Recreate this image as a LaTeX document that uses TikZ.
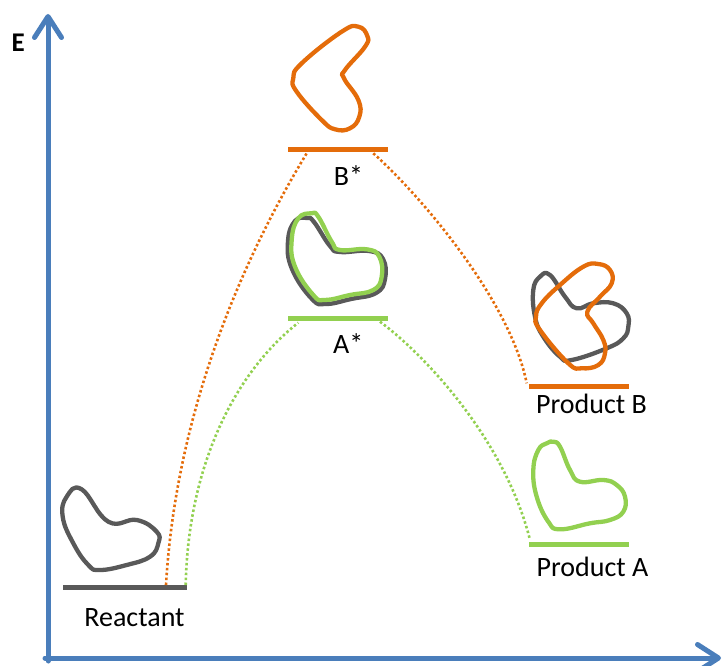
\documentclass[tikz,border=0pt]{standalone}
\usepackage{fontspec}
\setmainfont{Carlito}
\usetikzlibrary{arrows.meta}
\definecolor{axisblue}{HTML}{4A7EBB}
\definecolor{stateorange}{HTML}{E46C0A}
\definecolor{stategreen}{HTML}{92D050}
\definecolor{stategray}{HTML}{595959}
\begin{document}
\begin{tikzpicture}[x=1pt,y=-1pt,
  axisline/.style={line width=5pt, axisblue, line cap=round,
    -{Straight Barb[length=21pt,width=27pt,line width=5pt,round]}},
  levelbar/.style={line width=5pt},
  pathdots/.style={line width=2.6pt, dash pattern=on 2.5pt off 2.4pt},
  blob/.style={line width=4.3pt, line join=round},
  lbl/.style={inner sep=0pt, anchor=base, font=\fontsize{28}{32}\selectfont}]
\useasboundingbox (0,0) rectangle (725,666);

% energy axes
\coordinate (origin) at (48,658);
\coordinate (etop) at (48,14);
\coordinate (xend) at (721,658);
\draw[axisline] (48,661) -- (etop);
\draw[axisline] (45,658) -- (xend);
\node[lbl, font=\bfseries\fontsize{27}{32}\selectfont] (elabel) at (18.3,52) {E};

% energy levels
\coordinate (reactL) at (63,587);   \coordinate (reactR) at (187,587);
\coordinate (bstarL) at (288,149);  \coordinate (bstarR) at (388,149);
\coordinate (astarL) at (288,318);  \coordinate (astarR) at (388,318);
\coordinate (prodBL) at (529,386);  \coordinate (prodBR) at (629,386);
\coordinate (prodAL) at (529,544);  \coordinate (prodAR) at (629,544);
\draw[levelbar, stategray]   (reactL) -- (reactR);
\draw[levelbar, stateorange] (bstarL) -- (bstarR);
\draw[levelbar, stategreen]  (astarL) -- (astarR);
\draw[levelbar, stateorange] (prodBL) -- (prodBR);
\draw[levelbar, stategreen]  (prodAL) -- (prodAR);

% level labels
\node[lbl] (reactant) at (134.5,626.7) {Reactant};
\node[lbl] (bstar) at (348.5,185) {B*};
\node[lbl] (astar) at (348.3,353.3) {A*};
\node[lbl] (productB) at (591.5,413.3) {Product B};
\node[lbl] (productA) at (592.5,576.7) {Product A};

% reaction paths
\coordinate (rOrange) at (166,585);  \coordinate (rGreen) at (185.7,585);
\coordinate (bIn) at (306.7,153.3);  \coordinate (bOut) at (373.3,153.3);
\coordinate (aIn) at (298.3,322.7);  \coordinate (aOut) at (380,321.7);
\coordinate (pB) at (526.7,383.3);   \coordinate (pA) at (530,540);
\draw[pathdots, stateorange] (rOrange) .. controls (175,430) and (230,280) .. (bIn);
\draw[pathdots, stateorange] (bOut) .. controls (420,195) and (510,300) .. (pB);
\draw[pathdots, stategreen] (rGreen) .. controls (188,470) and (232,375) .. (aIn);
\draw[pathdots, stategreen] (aOut) .. controls (425,355) and (505,440) .. (pA);

% molecule outlines
\draw[blob, stategray] plot[smooth cycle, tension=0.75] coordinates {
  (81.7,489.3) (108.3,521.7) (136.7,520) (156.7,531.7) (158.3,543.3)
  (150,556.7) (126.7,565) (100,570) (88.3,565) (73.3,543.3)
  (62.7,516.7) (66.7,496.7)};
\draw[blob, stateorange] plot[smooth cycle, tension=0.75] coordinates {
  (358.3,26.7) (367.3,36) (365,46.7) (345,70) (344,78.3) (358.3,100)
  (359.3,116.7) (350,128.3) (335,129.3) (321.7,120) (296.7,91.7)
  (293.3,78.3) (301.7,63.3) (341.7,31.7)};
\draw[blob, stategray] plot[smooth cycle, tension=0.75] coordinates {
  (307,218) (314,222) (330,246) (340,252) (369,251) (383,259) (385,279)
  (376,293) (351,299) (326,304) (312,299) (292,269) (288,241) (295,221)};
\draw[blob, stategreen] plot[smooth cycle, tension=0.75] coordinates {
  (311.7,213.3) (318.3,216.7) (331.7,241.7) (340,250) (366.7,249.3)
  (379.3,256.7) (381.7,276.7) (373.3,290) (350,295) (325,300)
  (313.3,295) (295,266.7) (291.7,240) (298.3,218.3)};
\draw[blob, stategray] plot[smooth cycle, tension=0.75] coordinates {
  (550,275) (565,296.7) (576.7,308.3) (593.3,303.3) (613.3,303.3)
  (626.7,313.3) (628.3,326.7) (623.3,338.3) (606.7,348.3) (571.7,360)
  (560,356.7) (543.3,336.7) (535,316.7) (533.3,290) (540,276.7)};
\draw[blob, stateorange] plot[smooth cycle, tension=0.75] coordinates {
  (598.3,264) (610,270) (611.7,283.3) (600,296.7) (587.3,311.7)
  (593.3,323.3) (603.3,340) (605,353.3) (598.3,365) (581.7,368.3)
  (568.3,363.3) (540,330) (536,316.7) (541.7,303.3) (560,285) (583.3,266.7)};
\draw[blob, stategreen] plot[smooth cycle, tension=0.75] coordinates {
  (553.3,441.7) (560,446.7) (570,470) (580,481.7) (603.3,480)
  (616.7,485) (625,496.7) (623.3,511.7) (610,520) (590,523.3)
  (560,529.3) (548.3,521.7) (536.7,496.7) (533.3,470) (538.3,450)
  (546.7,443.3)};
\end{tikzpicture}
\end{document}
